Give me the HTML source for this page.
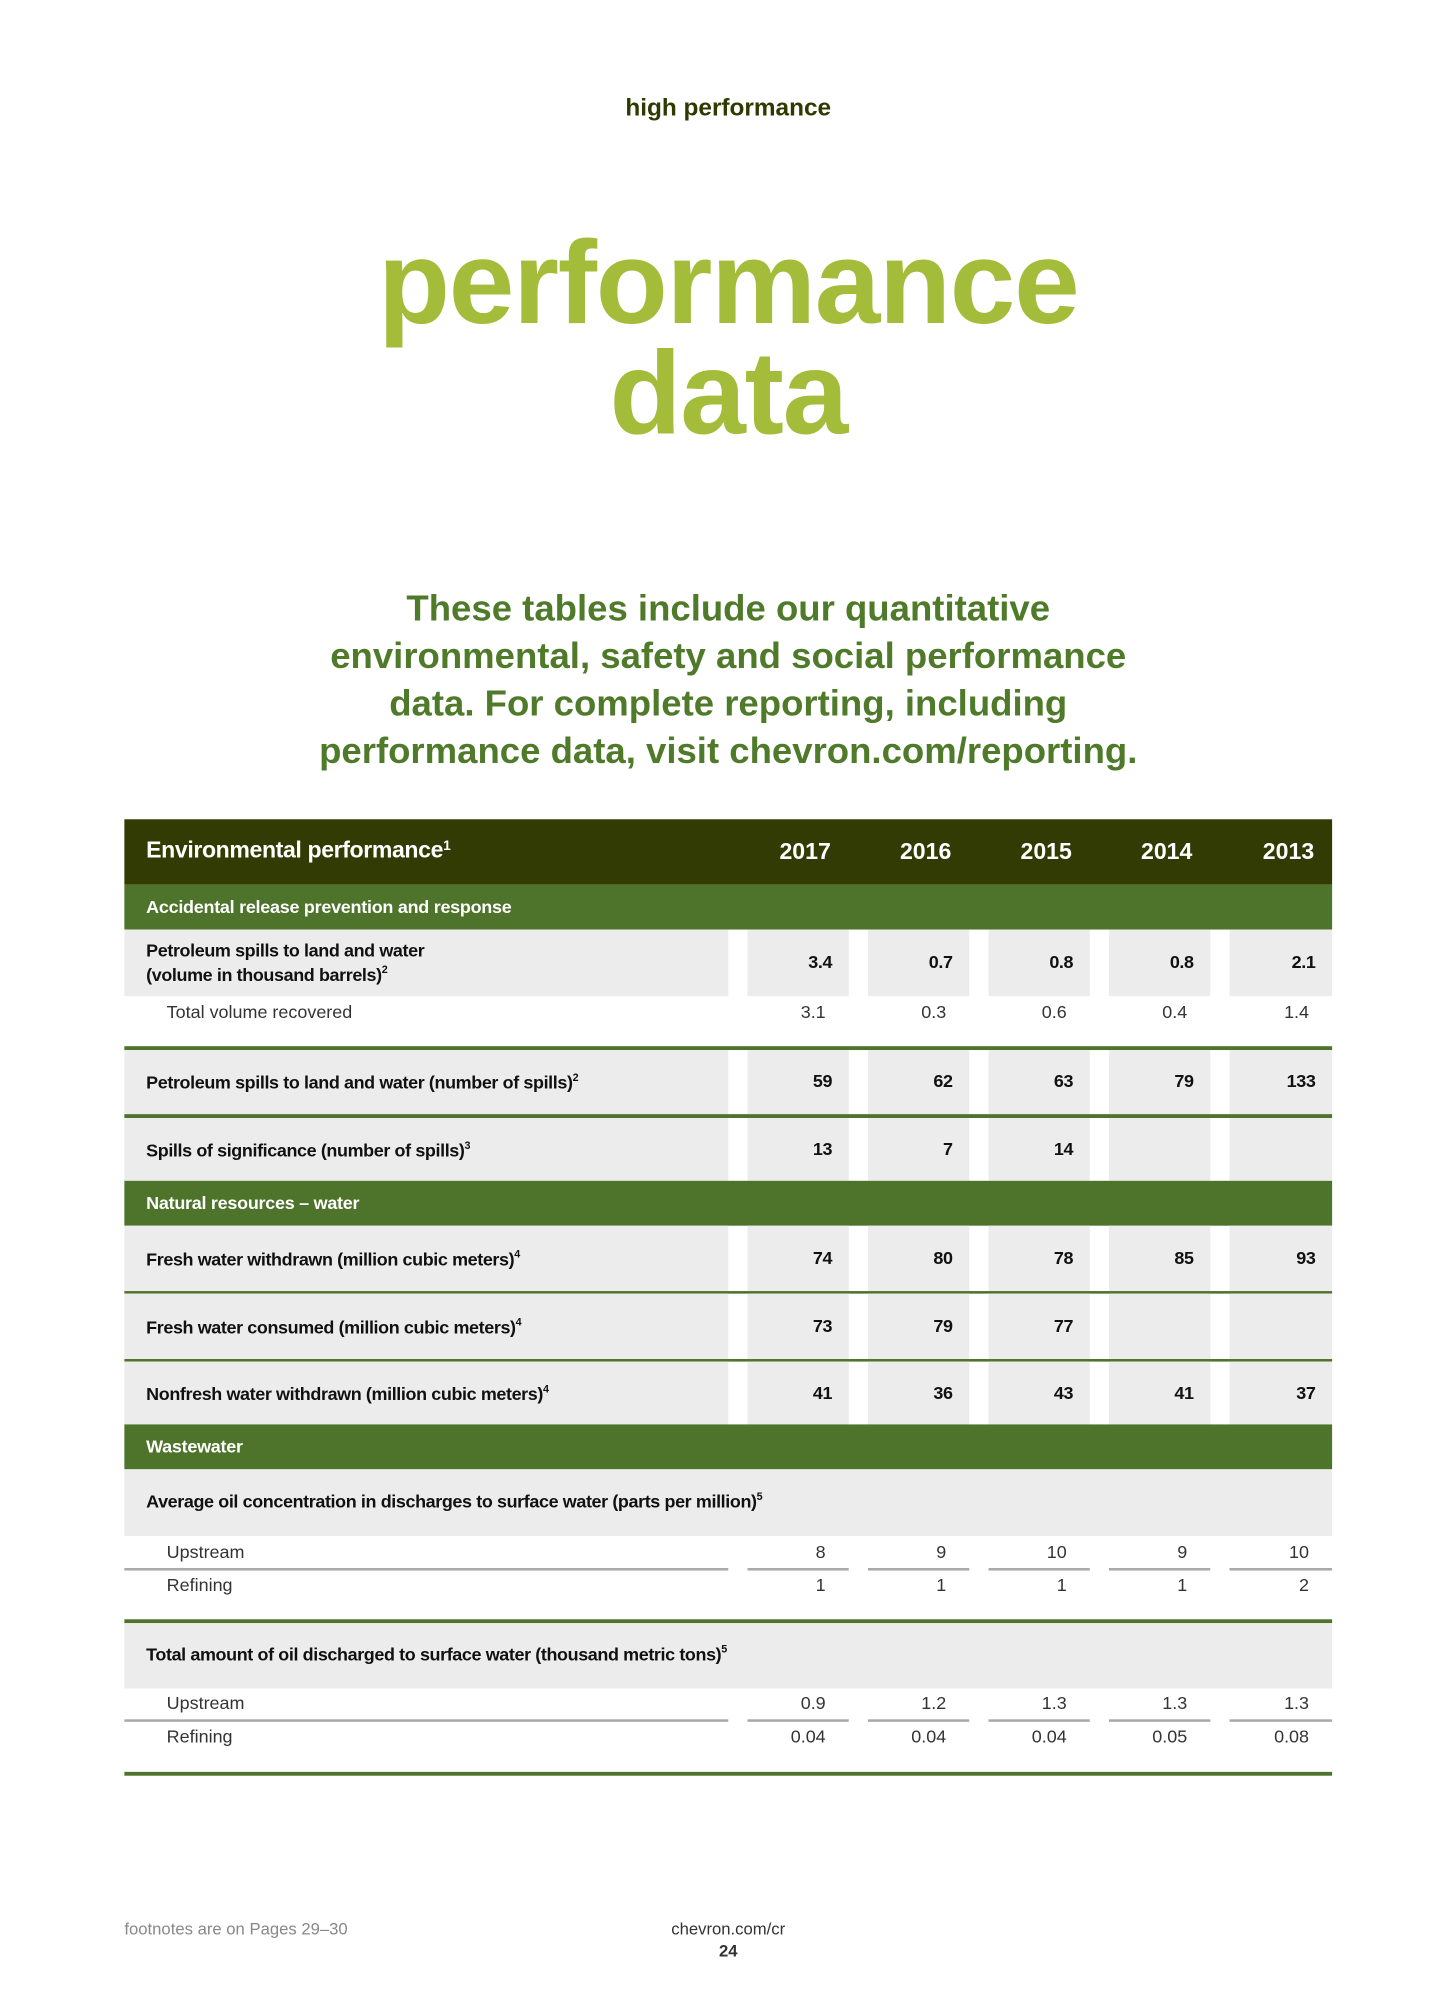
<!DOCTYPE html>
<html><head><meta charset="utf-8">
<style>
html,body{margin:0;padding:0;background:#fff;}
body{width:1450px;height:2000px;overflow:hidden;position:relative;font-family:"Liberation Sans",sans-serif;}
#wrap{position:absolute;left:0;top:0;width:1131px;height:1560px;transform-origin:0 0;transform:scale(1.2821);}
.a{position:absolute;}
.t{position:absolute;white-space:nowrap;}
sup{font-size:60%;vertical-align:6px;line-height:0;}
</style></head><body>
<div id="wrap">
<div class="t" style="left:0;width:1136px;text-align:center;top:74px;font-size:19px;font-weight:bold;color:#2d3a00;">high performance</div>
<div class="t" style="left:0;width:1136px;text-align:center;top:178px;font-size:92px;line-height:86px;font-weight:bold;color:#a3bd3a;letter-spacing:-1px;">performance<br>data</div>
<div class="t" style="left:0;width:1136px;text-align:center;top:457px;font-size:28.5px;line-height:37px;font-weight:bold;color:#4e7a2a;">These tables include our quantitative<br>environmental, safety and social performance<br>data. For complete reporting, including<br>performance data, visit chevron.com/reporting.</div>
<div id="tbl"></div>
<div class="t" style="left:97px;top:1497px;font-size:13px;color:#888;">footnotes are on Pages 29–30</div>
<div class="t" style="left:0;width:1136px;text-align:center;top:1497px;font-size:13px;color:#333;">chevron.com/cr</div>
<div class="t" style="left:0;width:1136px;text-align:center;top:1514px;font-size:13px;font-weight:bold;color:#333;">24</div>
</div>
<script>
const years=["2017","2016","2015","2014","2013"];
const spillVol=["3.4","0.7","0.8","0.8","2.1"];
const spillRecovered=["3.1","0.3","0.6","0.4","1.4"];
const spillCount=["59","62","63","79","133"];
const spillSig=["13","7","14","",""];
const waterWithdrawn=["74","80","78","85","93"];
const waterConsumed=["73","79","77","",""];
const nonfresh=["41","36","43","41","37"];
const oilConcUp=["8","9","10","9","10"];
const oilConcRef=["1","1","1","1","2"];
const oilAmtUp=["0.9","1.2","1.3","1.3","1.3"];
const oilAmtRef=["0.04","0.04","0.04","0.05","0.08"];

const T=document.getElementById('tbl');
const L=97,R=1039,LW=568;
const cols=[[583,662],[677,756],[771,850],[865,944],[959,1039]];
const DARK='#333b04',GREEN='#4e732b',GRAY='#ececec';
function box(x,y,w,h,c,name){const d=document.createElement('div');d.className='a';d.style.cssText=`left:${x}px;top:${y}px;width:${w}px;height:${h}px;background:${c}`;


T.appendChild(d);return d;}
function txt(x,y,s,css,name,right){const d=document.createElement('div');d.className='t';d.innerHTML=s;
d.style.cssText=(right?`right:${1131-x}px;`:`left:${x}px;`)+`top:${y}px;`+css;


T.appendChild(d);return d;}
const B='font-size:14px;font-weight:bold;color:#111;letter-spacing:-0.3px;';
const N='font-size:14px;color:#333;';
box(L,639,R-L,51,DARK,'table-header');
txt(114,653,'Environmental performance<sup>1</sup>','font-size:18px;font-weight:bold;color:#fff;letter-spacing:-0.3px;','header-title');
years.forEach((y,i)=>txt(cols[i][1]-14,654,y,'font-size:18px;font-weight:bold;color:#fff;','year-'+y,true));
function section(y,h,label,name){box(L,y,R-L,h,GREEN,name);txt(114,y+h/2-9,label,'font-size:14px;font-weight:bold;color:#fff;letter-spacing:-0.2px;',name+'-label');}
function grayRow(y,h,label,vals,name,two){box(L,y,LW-L,h,GRAY,name+'-label-cell');
cols.forEach((c,i)=>{box(c[0],y,c[1]-c[0],h,GRAY,name+'-cell-'+years[i]);});
txt(114,y+h/2-(two?19:9),label,B+'line-height:19px;',name+'-label');
vals.forEach((v,i)=>{if(v!=='')txt(cols[i][1]-13,y+h/2-9,v,B,name+'-value-'+years[i],true);});}
function line(y,h,c,name){box(L,y,R-L,h,c,name);}
function subRow(y,label,vals,name,underline){txt(130,y-9,label,N,name+'-label');
vals.forEach((v,i)=>txt(cols[i][1]-18,y-9,v,N,name+'-value-'+years[i],true));
if(underline){box(L,y+12,LW-L,1.5,'#aaa',name+'-rule');cols.forEach((c,i)=>box(c[0],y+12,c[1]-c[0],1.5,'#aaa',name+'-rule-'+years[i]));}}
section(690,35,'Accidental release prevention and response','section-accidental-release');
grayRow(725,52,'Petroleum spills to land and water<br>(volume in thousand barrels)<sup>2</sup>',spillVol,'spill-volume-row',true);
subRow(790,'Total volume recovered',spillRecovered,'volume-recovered-row',false);
line(816,3,GREEN,'rule-1');
grayRow(819,50,'Petroleum spills to land and water (number of spills)<sup>2</sup>',spillCount,'spill-count-row');
line(869,3,GREEN,'rule-2');
grayRow(872,49,'Spills of significance (number of spills)<sup>3</sup>',spillSig,'spills-significance-row');
section(921,35,'Natural resources – water','section-water');
grayRow(956,51,'Fresh water withdrawn (million cubic meters)<sup>4</sup>',waterWithdrawn,'fresh-withdrawn-row');
line(1007,2,GREEN,'rule-3');
grayRow(1009,51,'Fresh water consumed (million cubic meters)<sup>4</sup>',waterConsumed,'fresh-consumed-row');
line(1060,2,GREEN,'rule-4');
grayRow(1062,49,'Nonfresh water withdrawn (million cubic meters)<sup>4</sup>',nonfresh,'nonfresh-row');
section(1111,35,'Wastewater','section-wastewater');
box(L,1146,R-L,52,GRAY,'oil-concentration-row');
txt(114,1163,'Average oil concentration in discharges to surface water (parts per million)<sup>5</sup>',B,'oil-concentration-label');
subRow(1211,'Upstream',oilConcUp,'oil-conc-upstream',true);
subRow(1237,'Refining',oilConcRef,'oil-conc-refining',false);
line(1263,3,GREEN,'rule-5');
box(L,1266,R-L,51,GRAY,'oil-amount-row');
txt(114,1282,'Total amount of oil discharged to surface water (thousand metric tons)<sup>5</sup>',B,'oil-amount-label');
subRow(1329,'Upstream',oilAmtUp,'oil-amt-upstream',true);
subRow(1355,'Refining',oilAmtRef,'oil-amt-refining',false);
line(1382,3,GREEN,'rule-bottom');
</script>
</body></html>
